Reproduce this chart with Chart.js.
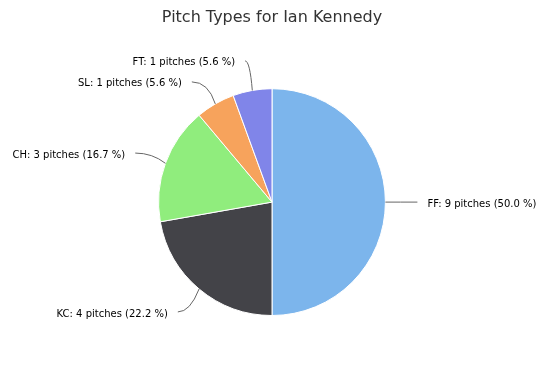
<!DOCTYPE html>
<html lang="en">
<head>
<meta charset="utf-8">
<title>Pitch Types for Ian Kennedy</title>
<script src="https://cdn.jsdelivr.net/npm/chart.js"></script>
<style>
	body{ margin: 0; background: #fff; }
	.canvas_div{ width: 550px; height: 367px; }
</style>
</head>
<body>
<div class="canvas_div">
	<canvas id="myChart" width="550" height="367"></canvas>
</div>
<script>
// data
const pitchTypes = ['FF', 'KC', 'CH', 'SL', 'FT'];
const pitchCounts = [9, 4, 3, 1, 1];
const sliceColors = ['#7cb5ec', '#434348', '#90ed7d', '#f7a35c', '#8085e9'];

const total = pitchCounts.reduce((a, b) => a + b, 0);

// labels with connectors, placed from the arc elements
const pieLabels = {
	id: 'pieLabels',
	afterDatasetsDraw(chart){
		const ctx = chart.ctx;
		const meta = chart.getDatasetMeta(0);
		const dist = 30, gap = 21;
		let items = meta.data.map((arc, i) => {
			const p = arc.getProps(['x', 'y', 'startAngle', 'endAngle', 'outerRadius'], true);
			const mid = (p.startAngle + p.endAngle) / 2;
			const c = Math.cos(mid), s = Math.sin(mid);
			return { i: i, p: p, c: c, s: s, side: c >= 0 ? 1 : -1,
				y: p.y + s * (p.outerRadius + dist) };
		});
		// keep labels on each side from overlapping
		[1, -1].forEach(side => {
			const list = items.filter(d => d.side == side).sort((a, b) => a.y - b.y);
			for(let k = 1; k < list.length; k++){
				if(list[k].y < list[k-1].y + gap) list[k].y = list[k-1].y + gap;
			}
		});
		ctx.save();
		ctx.font = '10px "DejaVu Sans", Verdana, sans-serif';
		ctx.textBaseline = 'middle';
		items.forEach(d => {
			const p = d.p, R = p.outerRadius, rr = R + dist;
			const dy = Math.min(Math.abs(d.y - p.y), rr);
			const ax = p.x + d.side * Math.sqrt(rr * rr - dy * dy);
			const ay = d.y;
			const ex = p.x + d.c * R, ey = p.y + d.s * R;
			ctx.strokeStyle = '#666666';
			ctx.lineWidth = 1;
			ctx.beginPath();
			ctx.moveTo(ax + d.side * 2, ay);
			ctx.quadraticCurveTo(p.x + d.c * (R + 14), ay, ex, ey);
			ctx.stroke();
			const pct = (pitchCounts[d.i] / total * 100).toFixed(1);
			const txt = pitchTypes[d.i] + ': ' + pitchCounts[d.i] + ' pitches (' + pct + ' %)';
			ctx.fillStyle = '#000000';
			ctx.textAlign = d.side > 0 ? 'left' : 'right';
			ctx.fillText(txt, ax + d.side * 12, ay + 2);
		});
		ctx.restore();
	}
};

const config = {
	type: 'pie',
	data: {
		labels: pitchTypes,
		datasets: [{
			data: pitchCounts,
			backgroundColor: sliceColors,
			hoverBackgroundColor: sliceColors,
			borderColor: '#ffffff',
			borderWidth: 1
		}]
	},
	options: {
		responsive: false,
		animation: false,
		layout: { padding: { left: 0, right: 6, top: 0, bottom: 51 } },
		plugins: {
			legend: { display: false },
			tooltip: { enabled: false },
			title: {
				display: true,
				text: 'Pitch Types for Ian Kennedy',
				color: '#333333',
				font: { family: '"DejaVu Sans", Verdana, sans-serif', size: 16, weight: 'normal' },
				padding: { top: 8, bottom: 61 }
			}
		}
	},
	plugins: [pieLabels]
};

new Chart(document.getElementById('myChart'), config);
</script>
</body>
</html>
